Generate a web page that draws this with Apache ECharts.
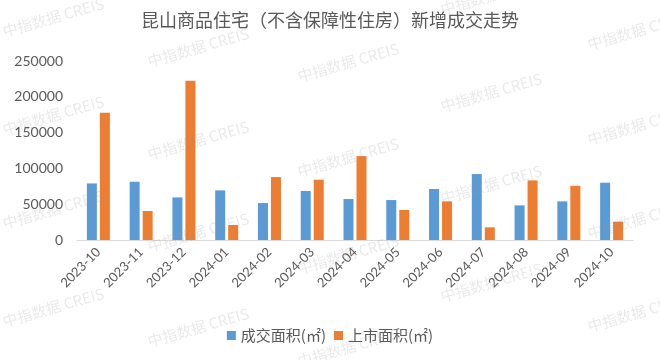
<!DOCTYPE html>
<html><head><meta charset="utf-8">
<script src="https://cdn.jsdelivr.net/npm/echarts@6/dist/echarts.min.js"></script>
<style>html,body{margin:0;padding:0;background:#fff}#c{width:660px;height:360px}</style>
</head><body><div id="c"></div>
<script>
const categories = ["2023-10","2023-11","2023-12","2024-01","2024-02","2024-03","2024-04","2024-05","2024-06","2024-07","2024-08","2024-09","2024-10"];
const dealArea = [79000, 81400, 59500, 69300, 51600, 68400, 57200, 55800, 71200, 92100, 48400, 54000, 80000];
const supplyArea = [177700, 40500, 222300, 20900, 87900, 84200, 117200, 41900, 54000, 17700, 83300, 75800, 25600];
const seriesNames = ["成交面积(㎡)", "上市面积(㎡)"];
const titleText = "昆山商品住宅（不含保障性住房）新增成交走势";
const watermarkText = "中指数据 CREIS";

const wmCols = [
  {x: 5, ys: [25, 123, 217, 315]},
  {x: 150, ys: [55, 148, 240, 335]},
  {x: 300, ys: [70, 165, 262, 355]},
  {x: 443, ys: [3, 100, 192, 290]},
  {x: 590, ys: [38, 133, 227, 320]}
];
const graphics = [];
wmCols.forEach(c => c.ys.forEach(y => {
  graphics.push({
    type: 'text', x: c.x, y: y + 14, rotation: 16 * Math.PI / 180, z: 100, silent: true,
    style: {text: watermarkText, fill: 'rgba(150,150,150,0.2)', font: '15px "Noto Sans CJK SC"', textVerticalAlign: 'bottom'}
  });
}));

const chart = echarts.init(document.getElementById('c'));
chart.setOption({
  animation: false,
  backgroundColor: '#fff',
  title: {text: titleText, left: 'center', top: 6,
    textStyle: {fontFamily: '"Noto Sans CJK SC"', fontSize: 18, fontWeight: 'normal', color: '#595959'}},
  grid: {left: 77, right: 27, top: 61, bottom: 120},
  legend: {bottom: 12, left: 'center', itemWidth: 9, itemHeight: 9, itemGap: 8, icon: 'rect',
    textStyle: {fontFamily: '"Noto Sans CJK SC"', fontSize: 15, color: '#595959'},
    data: seriesNames},
  xAxis: {type: 'category', data: categories,
    axisLine: {lineStyle: {color: '#D9D9D9', width: 1}}, axisTick: {show: false},
    axisLabel: {rotate: 45, margin: 10, fontFamily: 'Lato', fontSize: 13, color: '#595959', interval: 0}},
  yAxis: {type: 'value', min: 0, max: 250000, interval: 50000,
    axisLine: {show: false}, axisTick: {show: false}, splitLine: {show: false},
    axisLabel: {margin: 14, fontFamily: 'Lato', fontSize: 14, color: '#595959', formatter: v => String(v)}},
  series: [
    {name: seriesNames[0], type: 'bar', data: dealArea, barWidth: 10, barGap: '30%', itemStyle: {color: '#5B9BD5'}},
    {name: seriesNames[1], type: 'bar', data: supplyArea, barWidth: 10, barGap: '30%', itemStyle: {color: '#ED7D31'}}
  ],
  graphic: graphics
});
</script></body></html>
